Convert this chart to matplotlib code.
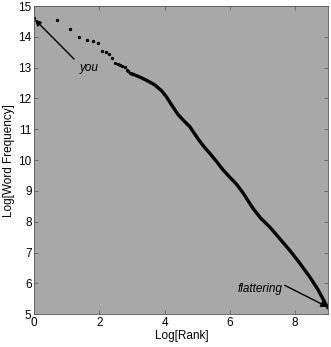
import numpy as np
import matplotlib
matplotlib.use('Agg')
import matplotlib.pyplot as plt

plt.rcParams['font.family'] = ['Liberation Sans', 'DejaVu Sans']

# Top-ranked words, drawn as single dots (rank -> log frequency)
top_ranks = [1, 2, 3, 4, 5, 6, 7, 8, 9, 10, 11, 12, 13, 14, 15, 16, 17, 18, 19, 20]
top_logfreq = [14.60, 14.55, 14.25, 13.99, 13.90, 13.88, 13.80, 13.55, 13.50, 13.45,
               13.30, 13.15, 13.13, 13.08, 13.05, 13.03, 12.93, 12.88, 12.82, 12.80]

# Dense tail of the curve (log rank, log frequency)
tail_logrank = [3.00, 3.09, 3.29, 3.50, 3.70, 3.91, 4.06, 4.15, 4.26, 4.40, 4.57, 4.78,
                4.88, 5.05, 5.20, 5.39, 5.60, 5.80, 6.00, 6.21, 6.42, 6.62, 6.72, 6.95,
                7.23, 7.50, 7.84, 8.15, 8.46, 8.70, 8.97, 9.03]
tail_logfreq = [12.80, 12.76, 12.67, 12.56, 12.44, 12.25, 12.05, 11.90, 11.72, 11.50,
                11.30, 11.08, 10.92, 10.66, 10.45, 10.22, 9.95, 9.68, 9.45, 9.22,
                8.92, 8.59, 8.43, 8.12, 7.83, 7.50, 7.08, 6.66, 6.21, 5.82, 5.29, 5.20]

fig = plt.figure(figsize=(3.31, 3.47), dpi=100)
ax = fig.add_axes([0.1036, 0.0942, 0.8885, 0.8885])
ax.set_facecolor('#a8a8a8')

ax.plot(np.log(top_ranks), top_logfreq, 'o', color='black', markersize=2.4,
        markeredgewidth=0)
ax.plot(tail_logrank, tail_logfreq, '-', color='black', linewidth=2.4,
        solid_capstyle='round', solid_joinstyle='round')

ax.set_xlim(0, 9.03)
ax.set_ylim(5, 15)
ax.set_xticks([0, 2, 4, 6, 8])
ax.set_yticks(range(5, 16))
ax.tick_params(direction='in', length=3, width=0.5, top=True, right=True,
               labelsize=8.5, color='#555555', pad=2)
for s in ax.spines.values():
    s.set_linewidth(0.6)
    s.set_color('#555555')

ax.set_xlabel('Log[Rank]', fontsize=8.5, labelpad=1)
ax.set_ylabel('Log[Word Frequency]', fontsize=8.5, labelpad=2)

arrow = dict(arrowstyle='-|>', color='black', lw=1.0, mutation_scale=9,
             shrinkA=0, shrinkB=0)
ax.annotate('', xy=(0.02, 14.56), xytext=(1.22, 13.28), arrowprops=arrow)
ax.text(1.68, 13.0, 'you', fontsize=8.5, style='italic', ha='center', va='center')

ax.annotate('', xy=(9.0, 5.24), xytext=(7.69, 5.94), arrowprops=arrow)
ax.text(7.62, 5.83, 'flattering', fontsize=8.5, style='italic', ha='right', va='center')

fig.savefig('out.png', dpi=100)
